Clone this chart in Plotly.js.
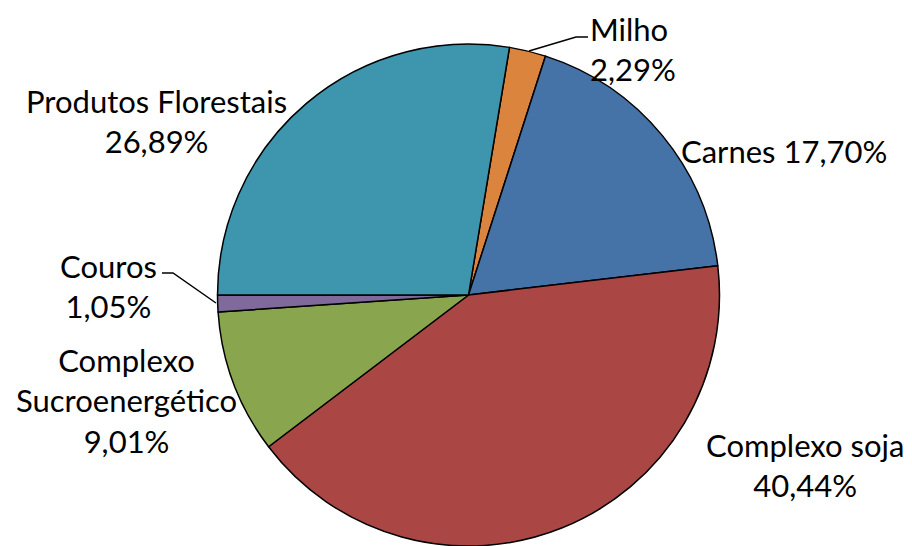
<!DOCTYPE html>
<html>
<head>
<meta charset="utf-8">
<script src="https://cdn.plot.ly/plotly-3.0.1.min.js"></script>
<style>html,body{margin:0;padding:0;background:#fff;overflow:hidden;}</style>
</head>
<body>
<div id="chart" style="width:912px;height:546px;"></div>
<script>
// Data
const categories = ["Milho", "Carnes", "Complexo soja", "Complexo Sucroenergético", "Couros", "Produtos Florestais"];
const shares = [2.29, 17.70, 40.44, 9.01, 1.05, 26.89];
const colors = ["#DB843D", "#4572A7", "#AA4643", "#89A54E", "#80699B", "#3D96AE"];

const W = 912, H = 546;
const px = x => x / W;
const py = y => 1 - y / H;
const fmt = v => v.toFixed(2).replace('.', ',') + '%';

// Label layout
const labelPos = [
  {x: 588, y: 49, xa: 'left', align: 'left', sep: '<br>'},
  {x: 679, y: 151, xa: 'left', align: 'left', sep: ' '},
  {x: 805, y: 465, xa: 'center', align: 'center', sep: '<br>'},
  {x: 127, y: 400, xa: 'center', align: 'center', sep: '<br>'},
  {x: 108, y: 286, xa: 'center', align: 'center', sep: '<br>'},
  {x: 156, y: 121, xa: 'center', align: 'center', sep: '<br>'}
];

const FONT = {family: 'Lato, "Open Sans", sans-serif', size: 31, color: '#000'};

const annotations = categories.map((c, i) => {
  const p = labelPos[i];
  const name = c.replace('Complexo Sucroenergético', 'Complexo<br>Sucroenergético');
  return {
    xref: 'paper', yref: 'paper', x: px(p.x), y: py(p.y),
    xanchor: p.xa, yanchor: 'middle', align: p.align,
    text: name + p.sep + fmt(shares[i]),
    showarrow: false, font: FONT
  };
});

const leaderLine = pts => ({
  type: 'path', xref: 'paper', yref: 'paper',
  path: 'M' + pts.map(p => px(p[0]) + ',' + py(p[1])).join(' L'),
  line: {color: '#000', width: 1.5}
});

const shapes = [
  leaderLine([[529, 51], [576, 37], [588, 37]]),
  leaderLine([[216, 303], [173, 273], [162, 273]])
];

const cx = 468.5, cy = 295, r = 251;
const trace = {
  type: 'pie',
  labels: categories,
  values: shares,
  sort: false,
  direction: 'clockwise',
  rotation: 9.4,
  textinfo: 'none',
  hoverinfo: 'label+percent',
  marker: {colors: colors, line: {color: '#000', width: 1.5}},
  domain: {x: [px(cx - r), px(cx + r)], y: [py(cy + r), py(cy - r)]},
  showlegend: false
};

Plotly.newPlot('chart', [trace], {
  width: W, height: H,
  margin: {l: 0, r: 0, t: 0, b: 0},
  paper_bgcolor: '#fff',
  showlegend: false,
  annotations: annotations,
  shapes: shapes
}, {displayModeBar: false, staticPlot: true});
</script>
</body>
</html>
